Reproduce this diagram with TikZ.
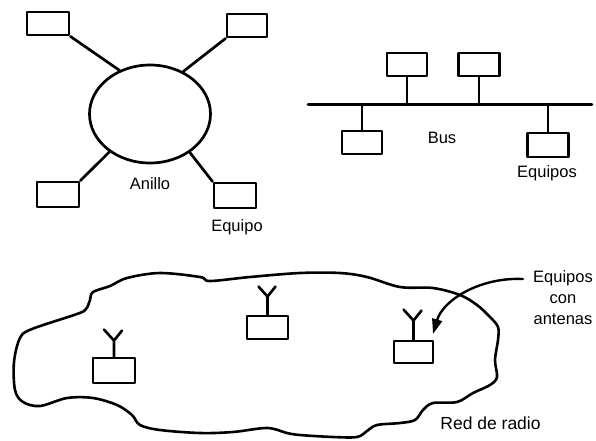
\documentclass[tikz,border=0pt]{standalone}
\usepackage{fontspec}
\setmainfont{Liberation Sans}
\usetikzlibrary{shapes.geometric,arrows.meta}
\begin{document}
\begin{tikzpicture}[x=1pt,y=-1pt,
  line width=2.7pt, line join=round, line cap=round,
  eq/.style={draw, rectangle, inner sep=0pt, line width=2.9pt, minimum width=41pt, minimum height=23pt},
  lbl/.style={inner sep=0pt, font=\fontsize{16.5}{21}\selectfont},
  ant/.style={line width=2.6pt}]
\useasboundingbox (0,0) rectangle (596,440);

% --- ring network ---
\node[draw, ellipse, minimum width=121pt, minimum height=98pt, inner sep=0pt] (ring) at (150,114) {};
\node[eq, minimum width=42pt] (b1) at (48,23.5) {};
\node[eq, minimum width=40pt] (b2) at (247,25.5) {};
\node[eq, minimum width=42pt, minimum height=25pt] (b3) at (58,194.5) {};
\node[eq, minimum width=42pt, minimum height=25pt] (b4) at (235,195.5) {};
\draw (b1.south east) -- (ring.125.5);
\draw (b2.south west) -- (ring.52.7);
\draw (b3.north east) -- (ring.223.5);
\draw (b4.north west) -- (ring.316.5);
\node[lbl, anchor=base] (anillo) at (150,189) {Anillo};
\node[lbl, anchor=base] (equipo) at (237,231) {Equipo};

% --- bus network ---
\coordinate (busL) at (308,104.5);
\coordinate (busR) at (592,104.5);
\draw (busL) -- (busR);
\node[eq, minimum width=40pt] (b5) at (407,64.5) {};
\node[eq, minimum width=41pt] (b6) at (479,64.5) {};
\node[eq, minimum width=40pt] (b7) at (362,142.5) {};
\node[eq, minimum width=41pt, minimum height=24pt] (b8) at (548,145) {};
\draw (b5.south) -- (b5.south |- busL);
\draw (b6.south) -- (b6.south |- busL);
\draw (b7.north) -- (b7.north |- busL);
\draw (b8.north) -- (b8.north |- busL);
\node[lbl, anchor=base] (bus) at (442,143.5) {Bus};
\node[lbl, anchor=base] (equipos) at (547,177) {Equipos};

% --- radio network ---
\draw[line width=2.6pt] plot[smooth cycle, tension=0.55] coordinates {
  (14,362) (20,338) (32,329) (77,314) (86,309) (90,300) (93,292)
  (110,286) (127,278) (160,273) (200,277) (210,281) (250,277)
  (300,273) (340,273) (367,277) (400,287) (433,288) (460,295)
  (477,305) (490,317) (498,327) (498,340) (495,360) (497,377)
  (490,385) (473,393) (457,402) (433,403) (423,410) (415,420)
  (400,423) (377,425) (367,431) (357,437) (333,437) (300,435)
  (287,433) (267,428) (233,432) (200,433) (160,430) (140,425)
  (132,415) (117,405) (93,398) (67,398) (40,406) (23,402) (15,390)};

\node[eq, minimum width=42pt, minimum height=25pt] (r1) at (114,370.5) {};
\node[eq, minimum width=41pt] (r2) at (267.5,327.5) {};
\node[eq, minimum width=39pt, minimum height=22pt] (r3) at (413.5,352) {};
\draw[ant] (r1.north) -- ++(0,-16) coordinate (a1) -- ++(-10,-11) (a1) -- ++(8,-10);
\draw[ant] (r2.north) -- ++(0,-18) coordinate (a2) -- ++(-9,-10) (a2) -- ++(8,-10);
\draw[ant] (r3.north) -- ++(0,-19) coordinate (a3) -- ++(-10,-11) (a3) -- ++(8,-10);

\node[lbl, align=center, anchor=north] (conant) at (563,269) {Equipos\\con\\antenas};
\coordinate (src) at (523,279);
\coordinate (dst) at (433,334);
\draw[line width=2.4pt, -{Triangle[length=15pt, width=10pt]}]
  (src) .. controls (480,277) and (443,300) .. (dst);
\node[lbl, font=\fontsize{17.5}{21}\selectfont, anchor=base] (red) at (490.5,429) {Red de radio};
\end{tikzpicture}
\end{document}
